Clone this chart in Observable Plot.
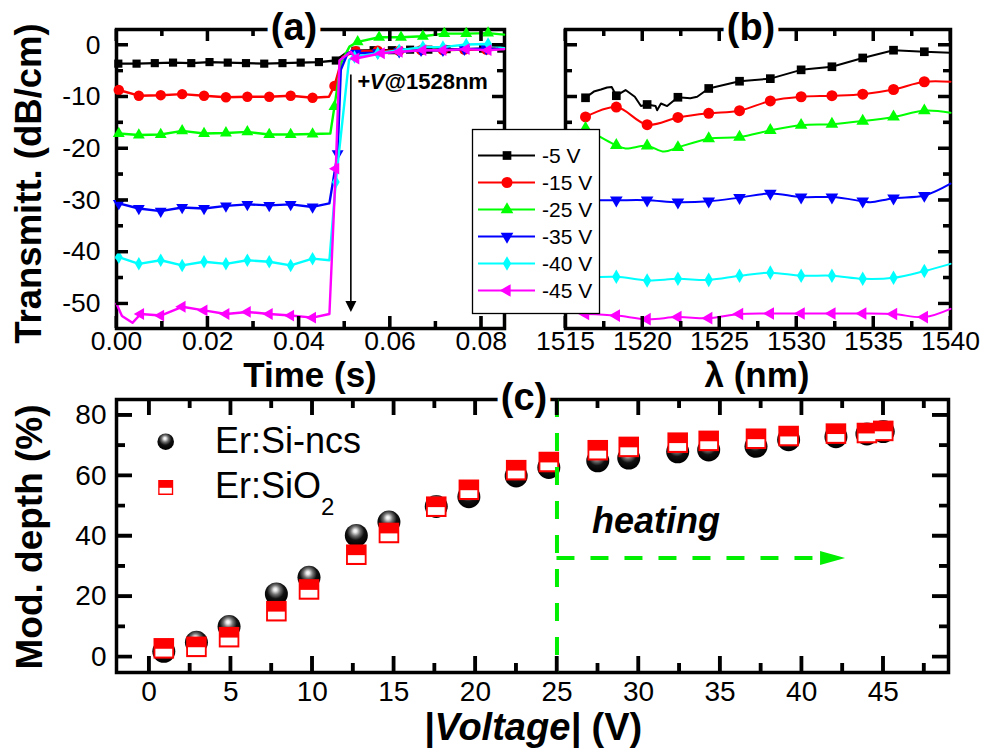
<!DOCTYPE html>
<html><head><meta charset="utf-8">
<script src="https://cdn.jsdelivr.net/npm/d3@7"></script>
<script src="https://cdn.jsdelivr.net/npm/@observablehq/plot@0.6"></script>
<style>
html,body{margin:0;padding:0;background:#fff;}
#fig{position:relative;width:981px;height:752px;overflow:hidden;background:#fff;}
#fig svg{position:absolute;left:0;top:0;}
</style></head><body><div id="fig"></div>
<script>
const FONT = '"Liberation Sans", Arial, Helvetica, sans-serif';

// ---------- shared series ----------
const seriesNames  = ["-5 V", "-15 V", "-25 V", "-35 V", "-40 V", "-45 V"];
const seriesColors = ["#000000", "#ff0000", "#00ff00", "#0000ff", "#00ffff", "#ff00ff"];

// ---------- panel (a): transmittance vs time [t (s), dB/cm] ----------
const aMark5V  = [[0.0004,-3.6],[0.0044,-3.6],[0.0084,-3.5],[0.0124,-3.4],[0.0164,-3.5],[0.0204,-3.3],[0.0244,-3.4],[0.0284,-3.5],[0.0324,-3.6],[0.0364,-3.5],[0.0404,-3.4],[0.0444,-3.3],[0.0481,-3.0],[0.0524,-1.1],[0.0564,-1.0],[0.0604,-1.0],[0.0644,-0.9],[0.0684,-0.9],[0.0724,-0.8],[0.0764,-0.8],[0.0804,-0.7],[0.0844,-0.7]];
const aTrace5V = [[0,-3.7],[0.0503,-1.6]];
const aMark15V  = [[0.0005,-8.7],[0.0049,-9.8],[0.0097,-9.7],[0.0144,-9.5],[0.0192,-9.8],[0.024,-10.1],[0.0287,-10.0],[0.0335,-10.0],[0.0382,-9.8],[0.043,-10.2],[0.0478,-7.9],[0.0525,-1.2],[0.0573,-1.1],[0.062,-1.1],[0.0668,-1.0],[0.0716,-1.0],[0.0763,-0.9],[0.0811,-0.9]];
const aTrace15V = [[0.0466,-10.0],[0.0496,-2.3],[0.085,-0.8]];
const aMark25V  = [[0.0005,-17.1],[0.0049,-17.4],[0.0097,-17.3],[0.0144,-16.6],[0.0192,-17.1],[0.024,-17.0],[0.0287,-16.8],[0.0335,-17.3],[0.0382,-17.3],[0.043,-17.2],[0.0478,-11.9],[0.0529,0.6],[0.0576,1.5],[0.0624,1.5],[0.0672,1.7],[0.0719,2.2],[0.0767,2.2],[0.0815,2.3]];
const aTrace25V = [[0.0469,-17.1],[0.0492,-3.5],[0.0511,-0.3],[0.085,2.0]];
const aMark35V  = [[0.0005,-30.6],[0.0049,-31.6],[0.0097,-32.1],[0.0144,-31.4],[0.0192,-31.6],[0.024,-31.1],[0.0287,-30.8],[0.0335,-31.0],[0.0382,-30.8],[0.043,-31.3],[0.0485,-21.0],[0.0525,-1.6],[0.0573,-1.5],[0.062,-1.3],[0.0668,-1.0],[0.0716,-1.0],[0.0763,-0.8],[0.0811,-0.7]];
const aTrace35V = [[0.0467,-30.6],[0.0492,-4.8],[0.0507,-1.6],[0.085,-0.8]];
const aMark40V  = [[0.0005,-41.0],[0.0049,-42.3],[0.0097,-41.6],[0.0144,-42.6],[0.0192,-41.9],[0.024,-42.3],[0.0287,-41.6],[0.0335,-41.9],[0.0382,-42.6],[0.043,-41.3],[0.0481,-26.5],[0.0522,-2.3],[0.0573,-1.6],[0.062,-1.0],[0.0672,-0.4],[0.0716,-0.4],[0.0767,0.1],[0.0815,0.2]];
const aTrace40V = [[0,-41.2],[0.0467,-41.6],[0.051,-2.9],[0.085,-0.6]];
const aMark45V  = [[0.0053,-52.0],[0.0097,-52.3],[0.0144,-50.6],[0.0192,-51.3],[0.024,-52.0],[0.0287,-51.6],[0.0335,-52.0],[0.0382,-52.3],[0.043,-52.7],[0.0481,-23.9],[0.0525,-2.6],[0.0581,-1.6],[0.062,-1.3],[0.0672,-1.0],[0.0716,-1.0],[0.0767,-0.8],[0.0815,-1.0]];
const aTrace45V = [[0,-50.0],[0.0012,-52.4],[0.0035,-53.7],[0.0467,-52.0],[0.0489,-3.0],[0.0514,-1.3],[0.085,-0.8]];
const aArrow = [{t: 0.0514, from: -5.8, to: -49.6, tip: -51.6}];
const aXMajor = [0, 0.02, 0.04, 0.06, 0.08], aXMinor = [0.01, 0.03, 0.05, 0.07];
const yMajorAB = [0, -10, -20, -30, -40, -50], yMinorAB = [-5, -15, -25, -35, -45];

// ---------- panel (b): transmittance vs wavelength ----------
const bLambda = [1516.3,1518.3,1520.3,1522.3,1524.3,1526.3,1528.3,1530.3,1532.3,1534.3,1536.3,1538.3];
const b5V  = [-10.2,-9.8,-11.5,-10.1,-8.4,-7.0,-6.5,-4.8,-4.2,-2.5,-1.0,-1.3];
const b15V = [-13.9,-12.0,-15.4,-14.0,-13.2,-12.7,-10.8,-10.0,-9.8,-9.5,-8.6,-7.1];
const b25V = [-16.1,-19.4,-19.5,-19.8,-18.1,-17.8,-16.5,-15.5,-15.3,-14.7,-13.9,-12.7];
const b35V = [-30.0,-30.0,-30.0,-30.4,-30.2,-29.5,-28.7,-29.4,-29.4,-30.2,-29.6,-29.1];
const b40V = [-45.0,-44.8,-45.5,-45.2,-45.4,-44.6,-44.0,-44.6,-44.6,-45.2,-45.0,-43.7];
const b45V = [-52.0,-52.3,-53.0,-52.6,-52.8,-52.0,-51.9,-51.9,-51.9,-51.9,-52.0,-52.6];
const bTrace5V  = [[1516.84,-9.0],[1517.3,-8.6],[1517.7,-8.2],[1518.0,-8.1],[1518.9,-8.7],[1519.5,-10.0],[1519.9,-11.8],[1520.85,-11.8],[1520.95,-12.6],[1521.2,-11.3],[1521.6,-11.8],[1523.1,-10.3],[1523.55,-10.0],[1540,-1.5]];
const bTrace15V = [[1540,-7.1]];
const bTrace25V = [[1518.9,-20.0],[1521.4,-20.6],[1540,-13.1]];
const bTrace35V = [[1534.8,-30.4],[1540,-26.8]];
const bTrace40V = [[1540,-42.3]];
const bTrace45V = [[1540,-51.0]];
const bXMajor = [1515,1520,1525,1530,1535,1540], bXMinor = [1517.5,1522.5,1527.5,1532.5,1537.5];

// ---------- panel (c): modulation depth vs |voltage| ----------
const cVoltage = [0.9,2.9,4.9,7.8,9.8,12.7,14.7,17.6,19.6,22.5,24.5,27.5,29.4,32.4,34.3,37.2,39.2,42.1,44.0,45.0];
const cSiNcs   = [1.8,4.8,10.0,20.8,26.3,40.2,44.6,49.8,53.0,59.9,62.7,64.9,65.8,67.9,68.5,69.7,71.9,72.9,73.8,74.6];
const cSiO2    = [2.8,3.3,6.5,15.1,22.3,33.8,41.0,49.7,55.3,61.8,64.5,68.4,69.5,70.9,71.5,72.2,73.1,73.9,74.1,74.8];
const cHeatLine = [25];
const cHeatArrow = [{y: 32.7, x1: 25, x2: 41.6, tip: 42.66}];
const cXMajor = [0,5,10,15,20,25,30,35,40,45], cXMinor = [2.5,7.5,12.5,17.5,22.5,27.5,32.5,37.5,42.5,47.5];
const cYMajor = [0,20,40,60,80], cYMinor = [10,30,50,70];
const GREEN = "#00ee00";

// ---------- symbols ----------
const s3 = Math.sqrt(3);
const symTriDown = {draw(c, size) { const y = -Math.sqrt(size / (s3 * 3)); c.moveTo(0, -2 * y); c.lineTo(-s3 * y, y); c.lineTo(s3 * y, y); c.closePath(); }};
const symTriLeft = {draw(c, size) { const y = -Math.sqrt(size / (s3 * 3)); c.moveTo(2 * y, 0); c.lineTo(-y, s3 * y); c.lineTo(-y, -s3 * y); c.closePath(); }};
const symLowerRect = {draw(c, size) { const s = Math.sqrt(size); c.rect(-0.41 * s, 0.02 * s, 0.82 * s, 0.38 * s); }};
const symArrowDown = {draw(c) { c.moveTo(0, 0); c.lineTo(-5.5, -11); c.lineTo(5.5, -11); c.closePath(); }};
const symArrowRight = {draw(c) { c.moveTo(0, 0); c.lineTo(-25, -7); c.lineTo(-25, 7); c.closePath(); }};
const seriesSymbols = [d3.symbolSquare, d3.symbolCircle, d3.symbolTriangle, symTriDown, d3.symbolDiamond, symTriLeft];
const markerR = [4.6, 5.2, 4.4, 4.4, 4.1, 4.4];

// inward tick marks as rules on all four frame sides (pixel length -> data units)
function boxTicks(o) {
  const [x0, x1] = o.xd;
  const [y0, y1] = o.yd;
  const kx = (x1 - x0) / o.w, ky = (y1 - y0) / o.h;
  const st = {stroke: "black", strokeWidth: o.sw};
  const m = [];
  for (const [ticks, len] of [[o.xMajor, o.maj], [o.xMinor, o.min]]) {
    m.push(Plot.ruleX(ticks, {...st, x: d => d, y1: () => y0, y2: () => y0 + len * ky}));
    m.push(Plot.ruleX(ticks, {...st, x: d => d, y1: () => y1, y2: () => y1 - len * ky}));
  }
  for (const [ticks, len] of [[o.yMajor, o.maj], [o.yMinor, o.min]]) {
    m.push(Plot.ruleY(ticks, {...st, y: d => d, x1: () => x0, x2: () => x0 + len * kx}));
    m.push(Plot.ruleY(ticks, {...st, y: d => d, x1: () => x1, x2: () => x1 - len * kx}));
  }
  m.push(Plot.axisX({anchor: "bottom", ticks: o.xMajor, tickSize: 0, tickPadding: o.xPad, tickFormat: o.xFmt, fontSize: o.fs, label: null}));
  if (o.yFmt) m.push(Plot.axisY({anchor: "left", ticks: o.yMajor, tickSize: 0, tickPadding: o.yPad, tickFormat: o.yFmt, fontSize: o.fs, label: null}));
  return m;
}
const plotStyle = {background: "transparent", overflow: "visible", fontFamily: FONT, fontSize: "27px", color: "black"};
const fig = document.getElementById("fig");

// ---------- Plot (a) ----------
const aXD = [0, 0.0851], aYD = [-54.8, 3.0];
const aMarks = [aMark5V, aMark15V, aMark25V, aMark35V, aMark40V, aMark45V];
const aTraces = [aTrace5V, aTrace15V, aTrace25V, aTrace35V, aTrace40V, aTrace45V];
const marksA = [Plot.frame({stroke: "black", strokeWidth: 3.5})];
aMarks.forEach((m, i) => {
  const line = m.concat(aTraces[i]).sort((p, q) => p[0] - q[0]);
  marksA.push(Plot.line(line, {x: d => d[0], y: d => d[1], stroke: seriesColors[i], strokeWidth: 2.4}));
  marksA.push(Plot.dot(m, {x: d => d[0], y: d => d[1], symbol: seriesSymbols[i], r: markerR[i], fill: seriesColors[i], stroke: "none"}));
});
marksA.push(Plot.ruleX(aArrow, {x: "t", y1: "from", y2: "to", stroke: "black", strokeWidth: 1.6}));
marksA.push(Plot.dot(aArrow, {x: "t", y: "tip", symbol: symArrowDown, r: 3, fill: "black", stroke: "none"}));
marksA.push(...boxTicks({xd: aXD, yd: aYD, w: 388, h: 299, xMajor: aXMajor, xMinor: aXMinor, yMajor: yMajorAB, yMinor: yMinorAB,
  maj: 12, min: 7, sw: 3, xPad: 3, yPad: 16, fs: 26.5, xFmt: d3.format(".2f"), yFmt: d => String(d)}));
const plotA = Plot.plot({
  width: 981, height: 752, marginLeft: 116, marginRight: 477, marginTop: 29, marginBottom: 424,
  style: plotStyle, x: {domain: aXD}, y: {domain: aYD}, marks: marksA
});
fig.appendChild(plotA);

// ---------- Plot (b) ----------
const bXD = [1515, 1540];
const bVals = [b5V, b15V, b25V, b35V, b40V, b45V];
const bTraces = [bTrace5V, bTrace15V, bTrace25V, bTrace35V, bTrace40V, bTrace45V];
const marksB = [Plot.frame({stroke: "black", strokeWidth: 3.5})];
bVals.forEach((vals, i) => {
  const pts = bLambda.map((l, j) => [l, vals[j]]);
  const line = pts.concat(bTraces[i]).sort((p, q) => p[0] - q[0]);
  marksB.push(Plot.line(line, {x: d => d[0], y: d => d[1], stroke: seriesColors[i], strokeWidth: 2, curve: i === 0 ? "linear" : "catmull-rom"}));
  marksB.push(Plot.dot(pts, {x: d => d[0], y: d => d[1], symbol: seriesSymbols[i], r: markerR[i] + 0.3, fill: seriesColors[i], stroke: "none"}));
});
marksB.push(...boxTicks({xd: bXD, yd: aYD, w: 385, h: 299, xMajor: bXMajor, xMinor: bXMinor, yMajor: yMajorAB, yMinor: yMinorAB,
  maj: 12, min: 7, sw: 3, xPad: 3, fs: 26.5, xFmt: d => String(d), yFmt: null}));
const plotB = Plot.plot({
  width: 981, height: 752, marginLeft: 565, marginRight: 31, marginTop: 29, marginBottom: 424,
  style: plotStyle, x: {domain: bXD}, y: {domain: aYD, axis: null}, marks: marksB
});
fig.appendChild(plotB);

// ---------- Plot (c) ----------
const cXD = [-2, 49], cYD = [-5.2, 85.2];
const cRows = cVoltage.map((v, i) => ({v, ncs: cSiNcs[i], sio2: cSiO2[i]}));
const plotC = Plot.plot({
  width: 981, height: 752, marginLeft: 116, marginRight: 33, marginTop: 399, marginBottom: 80,
  style: {...plotStyle, fontSize: "28px"},
  x: {domain: cXD}, y: {domain: cYD},
  marks: [
    Plot.frame({stroke: "black", strokeWidth: 3.5}),
    Plot.dot(cRows, {x: "v", y: "ncs", r: 11.5, fill: "url(#sphereGrad)", stroke: "none"}),
    Plot.dot(cRows, {x: "v", y: "sio2", symbol: "square", r: 11.6, fill: "#ff0000", stroke: "none"}),
    Plot.dot(cRows, {x: "v", y: "sio2", symbol: symLowerRect, r: 11.6, fill: "#ffffff", stroke: "none"}),
    Plot.ruleX(cHeatLine, {stroke: GREEN, strokeWidth: 4, strokeDasharray: "18,16"}),
    Plot.ruleY(cHeatArrow, {y: "y", x1: "x1", x2: "x2", stroke: GREEN, strokeWidth: 4, strokeDasharray: "18,16"}),
    Plot.dot(cHeatArrow, {x: "tip", y: "y", symbol: symArrowRight, r: 3, fill: GREEN, stroke: "none"}),
    ...boxTicks({xd: cXD, yd: cYD, w: 832, h: 273, xMajor: cXMajor, xMinor: cXMinor, yMajor: cYMajor, yMinor: cYMinor,
      maj: 16, min: 9, sw: 3.3, xPad: 9, yPad: 10, fs: 28, xFmt: d => String(d), yFmt: d => String(d)})
  ]
});
fig.appendChild(plotC);

// ---------- overlay: titles, labels, legends ----------
const ov = d3.select(fig).append("svg").attr("width", 981).attr("height", 752)
  .style("font-family", FONT);
const grad = ov.append("defs").append("radialGradient").attr("id", "sphereGrad")
  .attr("cx", 0.48).attr("cy", 0.36).attr("r", 0.6).attr("fx", 0.45).attr("fy", 0.3);
[[0, "#ffffff"], [0.12, "#e8e8e8"], [0.35, "#707070"], [0.62, "#111111"], [1, "#000000"]]
  .forEach(([o, c]) => grad.append("stop").attr("offset", o).attr("stop-color", c));

// inward ticks again on top, positioned with each plot's own scales
function overlayTicks(plot, o) {
  const sx = plot.scale("x"), sy = plot.scale("y");
  const px = v => sx.apply(v), py = v => sy.apply(v);
  const L = px(sx.domain[0]), R = px(sx.domain[1]), B = py(sy.domain[0]), T = py(sy.domain[1]);
  let d = "";
  for (const [ticks, len] of [[o.xMajor, o.maj], [o.xMinor, o.min]]) for (const t of ticks) {
    const x = px(t);
    d += `M${x},${B}V${B - len}M${x},${T}V${T + len}`;
  }
  for (const [ticks, len] of [[o.yMajor, o.maj], [o.yMinor, o.min]]) for (const t of ticks) {
    const y = py(t);
    d += `M${L},${y}H${L + len}M${R},${y}H${R - len}`;
  }
  ov.append("path").attr("d", d).attr("fill", "none").attr("stroke", "#000").attr("stroke-width", o.sw);
}
overlayTicks(plotA, {xMajor: aXMajor, xMinor: aXMinor, yMajor: yMajorAB, yMinor: yMinorAB, maj: 12, min: 7, sw: 3});
overlayTicks(plotB, {xMajor: bXMajor, xMinor: bXMinor, yMajor: yMajorAB, yMinor: yMinorAB, maj: 12, min: 7, sw: 3});
overlayTicks(plotC, {xMajor: cXMajor, xMinor: cXMinor, yMajor: cYMajor, yMinor: cYMinor, maj: 16, min: 9, sw: 3.3});

[["(a)", 294, 40], ["(b)", 751, 40], ["(c)", 524, 410]].forEach(([t, x, y]) => {
  ov.append("text").attr("x", x).attr("y", y).attr("text-anchor", "middle")
    .attr("font-size", 38).attr("font-weight", "bold")
    .attr("stroke", "white").attr("stroke-width", 10).attr("paint-order", "stroke").attr("fill", "black").text(t);
});
ov.append("text").attr("transform", "translate(41,183.5) rotate(-90)").attr("text-anchor", "middle")
  .attr("font-size", 36.5).attr("font-weight", "bold").text("Transmitt. (dB/cm)");
ov.append("text").attr("transform", "translate(42,537) rotate(-90)").attr("text-anchor", "middle")
  .attr("font-size", 37).attr("font-weight", "bold").text("Mod. depth (%)");
ov.append("text").attr("x", 310).attr("y", 387).attr("text-anchor", "middle")
  .attr("font-size", 35).attr("font-weight", "bold").text("Time (s)");
ov.append("text").attr("x", 757).attr("y", 387).attr("text-anchor", "middle")
  .attr("font-size", 35).attr("font-weight", "bold").text("λ (nm)");
const vt = ov.append("text").attr("x", 533).attr("y", 740).attr("text-anchor", "middle")
  .attr("font-size", 38).attr("font-weight", "bold");
vt.append("tspan").attr("font-style", "italic").text("|Voltage|");
vt.append("tspan").text(" (V)");
const ann = ov.append("text").attr("x", 357).attr("y", 89).attr("font-size", 22).attr("font-weight", "bold");
ann.append("tspan").attr("font-style", "italic").text("+V");
ann.append("tspan").text("@1528nm");
ov.append("text").attr("x", 592).attr("y", 533).attr("font-size", 36).attr("font-weight", "bold")
  .attr("font-style", "italic").text("heating");

const lg = ov.append("g");
lg.append("rect").attr("x", 472.5).attr("y", 129.5).attr("width", 127).attr("height", 184)
  .attr("fill", "white").attr("stroke", "black").attr("stroke-width", 1.3);
seriesNames.forEach((n, i) => {
  const y = 155.5 + i * 27;
  lg.append("line").attr("x1", 478).attr("x2", 535).attr("y1", y).attr("y2", y)
    .attr("stroke", seriesColors[i]).attr("stroke-width", 2.2);
  lg.append("path").attr("transform", `translate(507,${y})`)
    .attr("d", d3.symbol(seriesSymbols[i], Math.PI * (markerR[i] + 0.3) ** 2)()).attr("fill", seriesColors[i]);
  lg.append("text").attr("x", 542).attr("y", y).attr("dy", "0.36em").attr("font-size", 21).text(n);
});

const lc = ov.append("g");
lc.append("circle").attr("cx", 165.7).attr("cy", 441.7).attr("r", 8.3).attr("fill", "url(#sphereGrad)");
lc.append("path").attr("transform", "translate(165.7,487.5)").attr("d", d3.symbol(d3.symbolSquare, 225)()).attr("fill", "#ff0000");
lc.append("path").attr("transform", "translate(165.7,487.5)").attr("d", d3.symbol(symLowerRect, 225)()).attr("fill", "#ffffff");
lc.append("text").attr("x", 215).attr("y", 453).attr("font-size", 36).text("Er:Si-ncs");
const sio = lc.append("text").attr("x", 215).attr("y", 498).attr("font-size", 36);
sio.append("tspan").text("Er:SiO");
sio.append("tspan").attr("font-size", 24).attr("dy", 17).text("2");
</script></body></html>
